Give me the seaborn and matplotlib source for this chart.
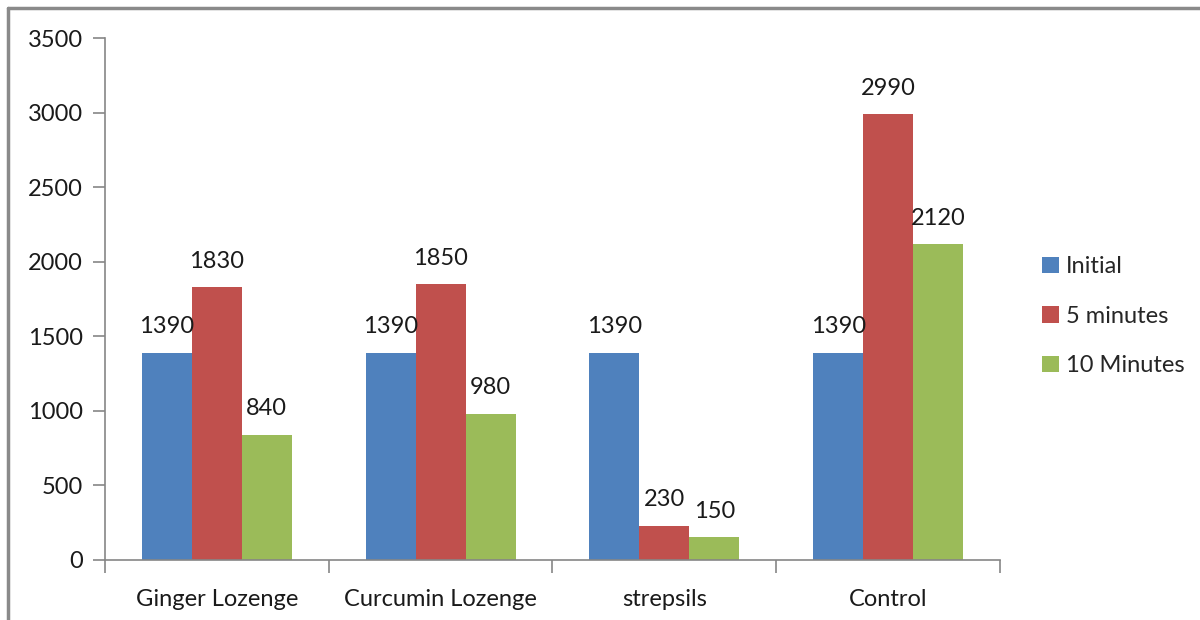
import pandas as pd
import matplotlib.pyplot as plt
import seaborn as sns
from matplotlib.patches import Patch
from matplotlib.lines import Line2D

# data
categories = ['Ginger Lozenge', 'Curcumin Lozenge', 'strepsils', 'Control']
series = ['Initial', '5 minutes', '10 Minutes']
initial = [1390, 1390, 1390, 1390]
five_min = [1830, 1850, 230, 2990]
ten_min = [840, 980, 150, 2120]
colors = ['#4F81BD', '#C0504D', '#9BBB59']

rows = []
for name, vals in zip(series, [initial, five_min, ten_min]):
    for cat, v in zip(categories, vals):
        rows.append({'group': cat, 'series': name, 'value': v})
df = pd.DataFrame(rows)

sns.set_style('white')
plt.rcParams['font.family'] = ['Lato', 'DejaVu Sans']

fig = plt.figure(figsize=(12, 6.2), dpi=100)
ax = fig.add_axes([0.0875, 0.097, 0.7458, 0.8416])

sns.barplot(data=df, x='group', y='value', hue='series', order=categories,
            hue_order=series, palette=colors, width=0.67, gap=0,
            saturation=1, ax=ax, legend=False)

for bar in ax.patches:
    bar.set_edgecolor('none')
for cont in ax.containers:
    ax.bar_label(cont, fmt='%d', padding=11, fontsize=17, color='#1a1a1a')

ax.set_ylim(0, 3500)
ax.set_yticks(range(0, 3501, 500))
ax.set_xlim(-0.5, 3.5)
ax.set_xlabel('')
ax.set_ylabel('')

gray = '#868686'
for s in ['top', 'right']:
    ax.spines[s].set_visible(False)
for s in ['left', 'bottom']:
    ax.spines[s].set_color(gray)
    ax.spines[s].set_linewidth(1.2)

ax.set_xticks([-0.5, 0.5, 1.5, 2.5, 3.5], minor=False)
ax.set_xticklabels([])
ax.set_xticks(range(4), minor=True)
ax.set_xticklabels(categories, minor=True, fontsize=17, color='#1a1a1a')
ax.tick_params(axis='x', which='major', direction='out', length=9, color=gray, width=1.2, bottom=True)
ax.tick_params(axis='x', which='minor', length=0, pad=21, bottom=True)
ax.tick_params(axis='y', direction='out', length=9, color=gray, width=1.2, pad=7,
               labelsize=17, labelcolor='#1a1a1a', left=True)

handles = [Patch(facecolor=c, edgecolor='none', label=s) for c, s in zip(colors, series)]
fig.legend(handles=handles, loc='center left', bbox_to_anchor=(0.851, 0.49),
           frameon=False, fontsize=17, handlelength=0.7, handleheight=0.7,
           handletextpad=0.3, labelspacing=1.2)

# outer chart frame (left and top edges visible)
fig.add_artist(Line2D([0.007, 0.007], [0.0, 0.987], color='#8a8a8a', lw=2.5, transform=fig.transFigure))
fig.add_artist(Line2D([0.007, 1.0], [0.987, 0.987], color='#8a8a8a', lw=2.5, transform=fig.transFigure))

fig.savefig('out.png', dpi=100)
